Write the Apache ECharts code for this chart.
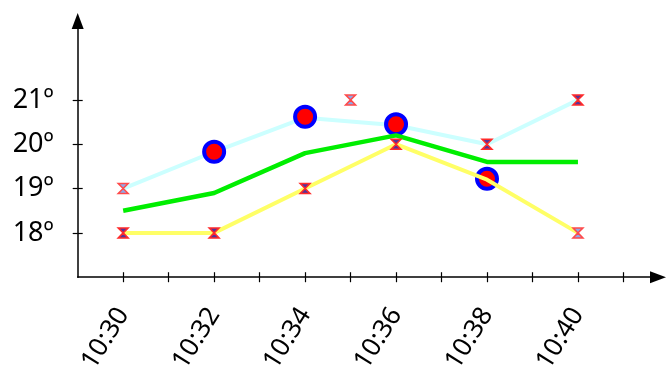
<!DOCTYPE html>
<html>
<head>
<meta charset="utf-8">
<script src="https://cdn.jsdelivr.net/npm/echarts@6/dist/echarts.min.js"></script>
<style>
html,body{margin:0;padding:0;background:#fff;}
#chart{width:667px;height:376px;}
</style>
</head>
<body>
<div id="chart"></div>
<script>
// minutes after 10:00
const times = [30, 32, 34, 36, 38, 40];
const cyanValues = [19, 19.83, 20.6, 20.43, 20.0, 21.0];
const greenValues = [18.5, 18.9, 19.8, 20.2, 19.6, 19.6];
const yellowValues = [18, 18, 19, 20, 19.2, 18];
const circleTimes = [32, 34, 36, 38];
const circleValues = [19.83, 20.62, 20.45, 19.22];
const darkMarkTimes = [30, 32, 34, 36, 38, 40];
const darkMarkValues = [18, 18, 19, 20, 20, 21];
const lightMarkTimes = [30, 35, 40];
const lightMarkValues = [19, 21, 18];
const yTicks = [18, 19, 20, 21];
const xTicks = [30, 31, 32, 33, 34, 35, 36, 37, 38, 39, 40, 41];
const xLabels = [30, 32, 34, 36, 38, 40];

const zip = (xs, ys) => xs.map((x, i) => [x, ys[i]]);
const fmtTime = v => '10:' + String(v).padStart(2, '0');
const FONT = '"Noto Sans", sans-serif';
const hourglass = 'path://M0,0L10,0L5,5L10,10L0,10L5,5Z';

const chart = echarts.init(document.getElementById('chart'), null, {renderer: 'canvas'});
const xMin = 29, xMax = 41.76, yMin = 17, yMax = 22.78;
chart.setOption({
  animation: false,
  backgroundColor: '#fff',
  grid: {left: 77.7, right: 9, top: 21, bottom: 92.5, containLabel: false},
  xAxis: [{
    type: 'value', min: xMin, max: xMax, position: 'bottom',
    axisLine: {show: true, symbol: ['none', 'triangle'], symbolSize: [12, 16], lineStyle: {color: '#000', width: 1.5}},
    axisTick: {show: true, inside: false, length: 5, customValues: xTicks, lineStyle: {color: '#000', width: 1.2}},
    axisLabel: {show: true, customValues: xLabels, rotate: 58, margin: 33, formatter: fmtTime,
      fontFamily: FONT, fontSize: 26, color: '#000'},
    splitLine: {show: false}
  }, {
    type: 'value', min: xMin, max: xMax, position: 'bottom', offset: 0,
    axisLine: {show: false},
    axisTick: {show: true, inside: true, length: 5, customValues: xTicks, lineStyle: {color: '#000', width: 1.2}},
    axisLabel: {show: false},
    splitLine: {show: false}
  }],
  yAxis: [{
    type: 'value', min: yMin, max: yMax, position: 'left',
    axisLine: {show: true, symbol: ['none', 'triangle'], symbolSize: [12, 16], lineStyle: {color: '#000', width: 1.5}},
    axisTick: {show: true, inside: false, length: 5, customValues: yTicks, lineStyle: {color: '#000', width: 1.2}},
    axisLabel: {show: true, customValues: yTicks, margin: 24, formatter: v => v + 'º',
      fontFamily: FONT, fontSize: 27, color: '#000'},
    splitLine: {show: false}
  }, {
    type: 'value', min: yMin, max: yMax, position: 'left', offset: 0,
    axisLine: {show: false},
    axisTick: {show: true, inside: true, length: 5, customValues: yTicks, lineStyle: {color: '#000', width: 1.2}},
    axisLabel: {show: false},
    splitLine: {show: false}
  }],
  series: [
    {type: 'scatter', data: zip(circleTimes, circleValues), symbol: 'circle', symbolSize: 20, z: 2,
      itemStyle: {color: '#ff0000', borderColor: '#0000ff', borderWidth: 4, opacity: 1}},
    {type: 'line', data: zip(times, cyanValues), showSymbol: false, z: 1,
      lineStyle: {color: '#ccffff', width: 4}},
    {type: 'line', data: zip(times, greenValues), showSymbol: false, z: 3,
      lineStyle: {color: '#00ee00', width: 4.5}},
    {type: 'line', data: zip(times, yellowValues), showSymbol: false, z: 3,
      lineStyle: {color: '#ffff66', width: 4}},
    {type: 'scatter', data: zip(darkMarkTimes, darkMarkValues), symbol: hourglass, symbolSize: [10, 10], z: 5,
      itemStyle: {color: '#553399', borderColor: '#ff2a2a', borderWidth: 1.5, opacity: 1}},
    {type: 'scatter', data: zip(lightMarkTimes, lightMarkValues), symbol: hourglass, symbolSize: [10, 10], z: 5,
      itemStyle: {color: '#8fa8e8', borderColor: '#ff4a4a', borderWidth: 1.5, opacity: 1}}
  ]
});
</script>
</body>
</html>
